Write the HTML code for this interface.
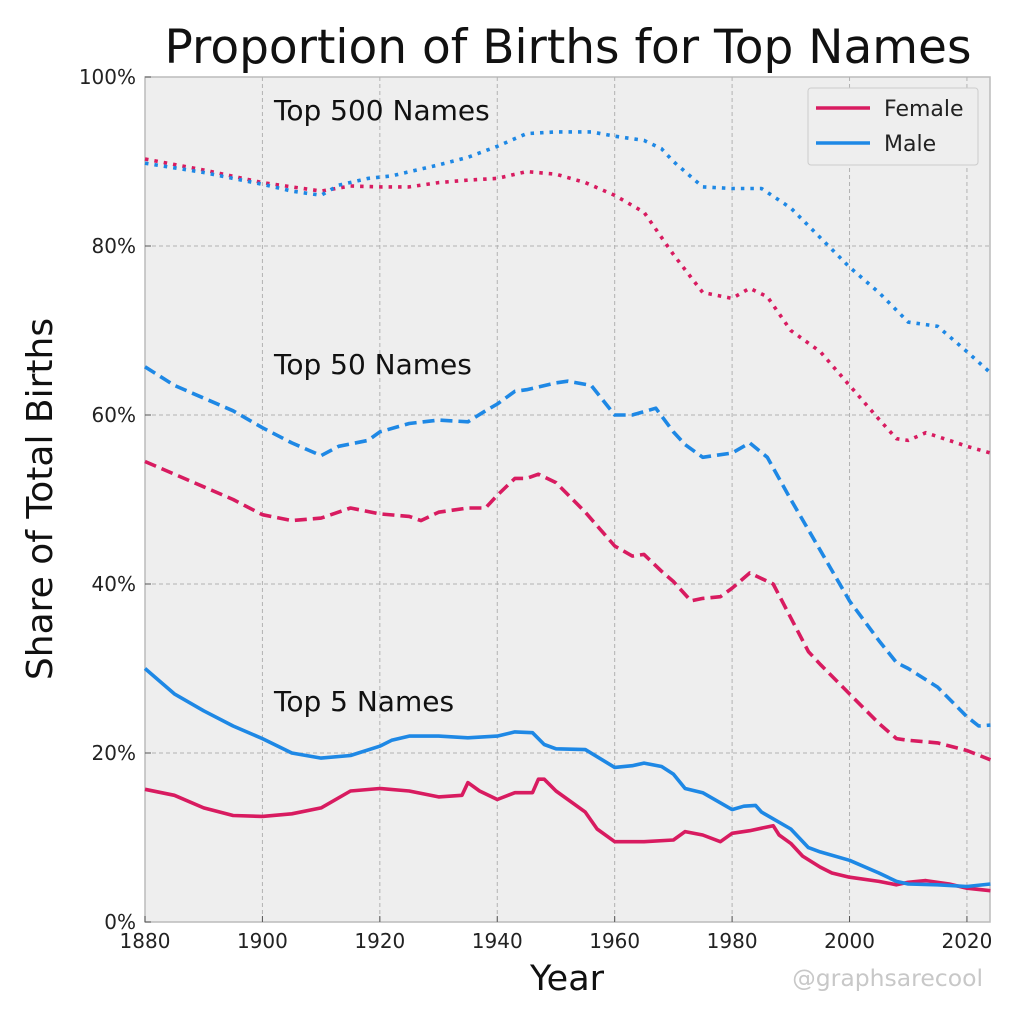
<!DOCTYPE html>
<html><head><meta charset="utf-8"><style>
html,body{margin:0;padding:0;background:#fff;}
svg text{font-family:"DejaVu Sans","Liberation Sans",sans-serif;}
</style></head><body>
<svg id="s" width="1024" height="1024" xmlns="http://www.w3.org/2000/svg">
<rect width="1024" height="1024" fill="#fff"/>
<rect x="145" y="77" width="845" height="845" fill="#eeeeee" stroke="#bcbcbc" stroke-width="1.5"/>
<g id="grid" stroke="#b2b2b2" stroke-width="1" stroke-dasharray="4,3"></g>
<g id="lines" fill="none" stroke-width="3.6" stroke-linejoin="round"></g>
<text x="568" y="63" font-size="47" text-anchor="middle" fill="#111">Proportion of Births for Top Names</text>
<text x="567" y="990" font-size="35" text-anchor="middle" fill="#111">Year</text>
<text transform="translate(52,499) rotate(-90)" font-size="36" text-anchor="middle" fill="#111">Share of Total Births</text>
<text x="274" y="120" font-size="28" fill="#111">Top 500 Names</text>
<text x="274" y="374" font-size="28" fill="#111">Top 50 Names</text>
<text x="274" y="711" font-size="28" fill="#111">Top 5 Names</text>
<text x="983" y="986" font-size="23.5" text-anchor="end" fill="#c8c8c8">@graphsarecool</text>
<g id="ticks" font-size="20" fill="#222"></g>
<rect x="808" y="88" width="170" height="77" fill="#eeeeee" stroke="#cccccc" rx="3"/>
<line x1="816" y1="108" x2="870" y2="108" stroke="#d81b60" stroke-width="3.6"/>
<line x1="816" y1="143" x2="870" y2="143" stroke="#1e88e5" stroke-width="3.6"/>
<text x="884" y="116" font-size="22" fill="#222">Female</text>
<text x="884" y="151" font-size="22" fill="#222">Male</text>
</svg>
<script>
var X=function(y){return 145+(y-1880)*5.871;},Y=function(v){return 922-v*8.45;};
var ns="http://www.w3.org/2000/svg";
var g=document.getElementById('grid'),t=document.getElementById('ticks');
function el(p,n,a,txt){var e=document.createElementNS(ns,n);for(var k in a)e.setAttribute(k,a[k]);if(txt)e.textContent=txt;p.appendChild(e);}
for(var yr=1900;yr<=2020;yr+=20)el(g,'line',{x1:X(yr),x2:X(yr),y1:77,y2:922});
for(var v=20;v<100;v+=20)el(g,'line',{x1:145,x2:990,y1:Y(v),y2:Y(v)});
for(var yr=1880;yr<=2020;yr+=20){el(t,'text',{x:X(yr),y:948,'text-anchor':'middle'},''+yr);el(t,'line',{x1:X(yr),x2:X(yr),y1:922,y2:916,stroke:'#555'});}
for(var v=0;v<=100;v+=20){el(t,'text',{x:136,y:Y(v)+7,'text-anchor':'end'},v+'%');el(t,'line',{x1:145,x2:151,y1:Y(v),y2:Y(v),stroke:'#555'});}
var R='#d81b60',B='#1e88e5';
var S=[
[R,'',[1880,15.7,1885,15,1890,13.5,1895,12.6,1900,12.5,1905,12.8,1910,13.5,1915,15.5,1920,15.8,1925,15.5,1930,14.8,1934,15,1935,16.5,1937,15.5,1940,14.5,1943,15.3,1946,15.3,1947,16.9,1948,16.9,1950,15.5,1955,13,1957,11,1960,9.5,1965,9.5,1970,9.7,1972,10.7,1975,10.3,1978,9.5,1980,10.5,1983,10.8,1987,11.4,1988,10.3,1990,9.3,1992,7.8,1995,6.5,1997,5.8,2000,5.3,2005,4.8,2008,4.4,2010,4.7,2013,4.9,2017,4.5,2020,4.0,2024,3.7]],
[B,'',[1880,30,1882,28.8,1885,27,1890,25,1895,23.2,1900,21.7,1905,20,1910,19.4,1915,19.7,1920,20.8,1922,21.5,1925,22,1930,22,1935,21.8,1940,22,1943,22.5,1946,22.4,1948,21,1950,20.5,1955,20.4,1960,18.3,1963,18.5,1965,18.8,1968,18.4,1970,17.5,1972,15.8,1975,15.3,1980,13.3,1982,13.7,1984,13.8,1985,13.0,1990,11.0,1993,8.8,1995,8.3,2000,7.3,2005,5.8,2008,4.8,2010,4.5,2015,4.4,2020,4.2,2024,4.5]],
[R,'12,6',[1880,54.5,1885,53,1890,51.5,1895,50,1900,48.2,1905,47.5,1910,47.8,1915,49,1920,48.3,1925,48,1927,47.5,1930,48.5,1935,49,1938,49,1940,50.5,1943,52.5,1945,52.5,1947,53,1950,52,1955,48.5,1960,44.5,1963,43.3,1965,43.5,1968,41.5,1970,40.3,1973,38,1975,38.3,1978,38.5,1980,39.5,1983,41.3,1987,40,1990,36,1993,32,1995,30.5,2000,27,2005,23.5,2008,21.7,2010,21.5,2015,21.2,2020,20.3,2024,19.2]],
[B,'12,6',[1880,65.7,1885,63.5,1890,62,1895,60.5,1900,58.5,1905,56.7,1910,55.2,1913,56.3,1918,57,1920,58,1925,59,1930,59.4,1935,59.2,1938,60.5,1940,61.3,1943,62.8,1945,63,1950,63.8,1952,64,1956,63.5,1960,60,1963,60,1967,60.8,1970,58,1972,56.5,1975,55,1980,55.5,1983,56.7,1986,55,1990,50,1995,44,2000,38,2005,33.3,2008,30.7,2010,30,2015,27.8,2020,24.3,2022,23.2,2024,23.3]],
[R,'3.5,6',[1880,90.3,1890,89,1900,87.5,1910,86.5,1915,87.1,1920,87,1925,87,1930,87.5,1935,87.8,1940,88,1945,88.8,1950,88.5,1955,87.5,1960,86,1965,84,1970,79,1975,74.5,1980,73.8,1983,75,1986,74,1990,70,1995,67.5,2000,63.5,2005,59.5,2008,57.2,2010,57,2013,57.9,2017,57,2020,56.3,2024,55.5]],
[B,'3.5,6',[1880,89.8,1890,88.7,1900,87.3,1905,86.5,1910,86,1913,87.2,1918,88,1922,88.3,1930,89.6,1935,90.5,1940,91.8,1945,93.3,1950,93.5,1956,93.5,1960,93,1965,92.5,1968,91.5,1970,90,1975,87,1980,86.8,1985,86.8,1990,84.5,1995,81,2000,77.5,2005,74.5,2010,71,2015,70.5,2020,67.5,2024,65]]
];
var L=document.getElementById('lines');
S.forEach(function(s){var p=[];for(var i=0;i<s[2].length;i+=2)p.push(X(s[2][i]).toFixed(1)+','+Y(s[2][i+1]).toFixed(1));
var a={points:p.join(' '),stroke:s[0]};if(s[1])a['stroke-dasharray']=s[1];el(L,'polyline',a);});
</script>
</body></html>
